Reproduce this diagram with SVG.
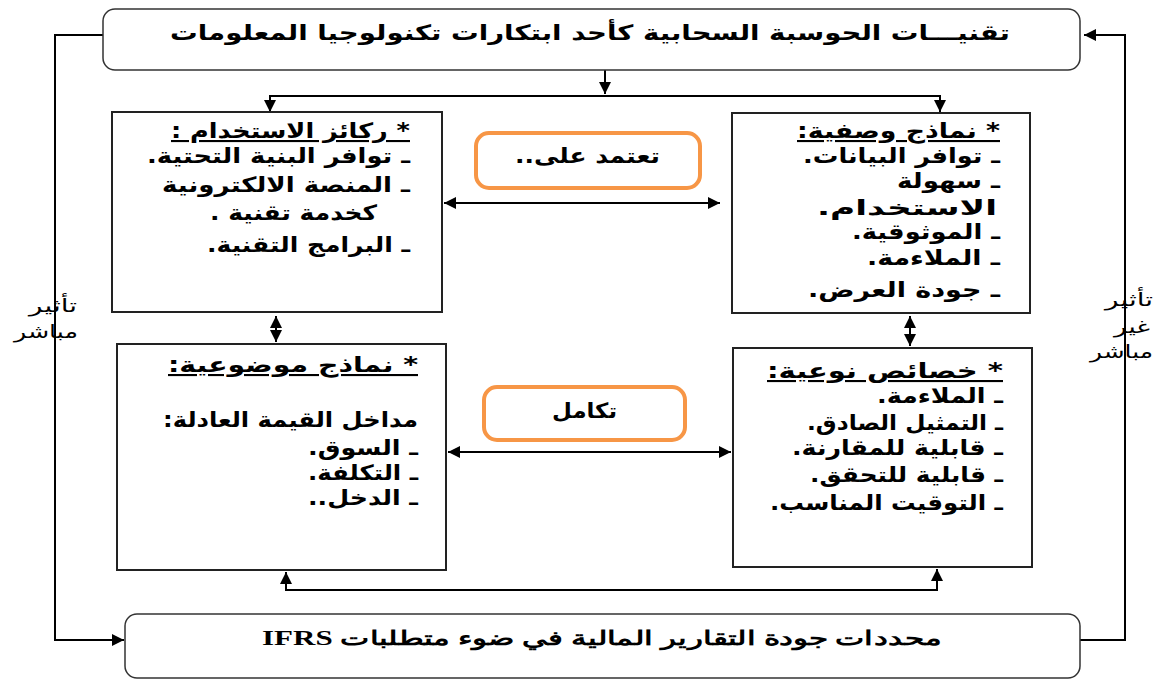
<svg xmlns="http://www.w3.org/2000/svg" width="1159" height="680" viewBox="0 0 1159 680">
<style>
.box{fill:#fff;stroke:#222;stroke-width:2}
.rbox{fill:#fff;stroke:#333;stroke-width:1.5}
.obox{fill:#fff;stroke:#F79646;stroke-width:4}
.ln{fill:none;stroke:#000;stroke-width:2}
.t{font-family:"DejaVu Sans","Noto Sans",sans-serif;font-weight:bold;font-size:21px;fill:#000;direction:rtl}
.h{text-decoration:underline}
.s{font-family:"Liberation Serif","DejaVu Serif",serif;font-weight:bold;font-size:20px;fill:#000;direction:rtl}
.lab{font-family:"DejaVu Sans","Noto Sans",sans-serif;font-size:18px;fill:#000;direction:rtl}
</style>
<defs>
<marker id="ah2" viewBox="0 0 10 10" refX="10" refY="5" markerWidth="12" markerHeight="12" markerUnits="userSpaceOnUse" orient="auto-start-reverse">
<path d="M0,0L10,5L0,10z" fill="#000"/>
</marker>
</defs>

<g id="connectors">
<line class="ln" x1="605" y1="70" x2="605" y2="94" marker-end="url(#ah2)"/>
<polyline class="ln" points="270,112 270,96 940,96 940,112" marker-start="url(#ah2)" marker-end="url(#ah2)"/>
<polyline class="ln" points="1080,640 1125,640 1125,35 1084,35" marker-end="url(#ah2)"/>
<polyline class="ln" points="103,35 55,35 55,640 124,640" marker-end="url(#ah2)"/>
<line class="ln" x1="444" y1="203" x2="720" y2="203" marker-start="url(#ah2)" marker-end="url(#ah2)"/>
<line class="ln" x1="448" y1="452" x2="731" y2="452" marker-start="url(#ah2)" marker-end="url(#ah2)"/>
<line class="ln" x1="276" y1="316" x2="276" y2="342" marker-start="url(#ah2)" marker-end="url(#ah2)"/>
<line class="ln" x1="910" y1="316" x2="910" y2="346" marker-start="url(#ah2)" marker-end="url(#ah2)"/>
<polyline class="ln" points="286,572 286,590 937,590 937,569" marker-start="url(#ah2)" marker-end="url(#ah2)"/>
</g>

<g id="top">
<rect class="rbox" x="103" y="9" width="977" height="61" rx="12"/>
<text class="t" x="1010" y="40" font-size="21" textLength="840" lengthAdjust="spacingAndGlyphs">تقنيـــات الحوسبة السحابية كأحد ابتكارات تكنولوجيا المعلومات</text>
</g>

<g id="bottom">
<rect class="rbox" x="125" y="614" width="955" height="64" rx="12"/>
<text class="s" x="942" y="645" textLength="680" lengthAdjust="spacingAndGlyphs">محددات جودة التقارير المالية في ضوء متطلبات IFRS</text>
</g>

<g id="box1">
<rect class="box" x="112" y="112" width="330" height="200"/>
<text class="t" x="410" y="138" textLength="239" lengthAdjust="spacingAndGlyphs"><tspan class="h">* ركائز الاستخدام :</tspan></text>
<text class="t" x="410" y="163" textLength="263" lengthAdjust="spacingAndGlyphs">ـ توافر البنية التحتية.</text>
<text class="t" x="410" y="192" textLength="248" lengthAdjust="spacingAndGlyphs">ـ المنصة الالكترونية</text>
<text class="t" x="377" y="220" textLength="167" lengthAdjust="spacingAndGlyphs">كخدمة تقنية .</text>
<text class="t" x="410" y="252" textLength="203" lengthAdjust="spacingAndGlyphs">ـ البرامج التقنية.</text>
</g>

<g id="box2">
<rect class="box" x="732" y="113" width="298" height="200"/>
<text class="t" x="1000" y="138" textLength="203" lengthAdjust="spacingAndGlyphs"><tspan class="h">* نماذج وصفية:</tspan></text>
<text class="t" x="1000" y="163" textLength="197" lengthAdjust="spacingAndGlyphs">ـ توافر البيانات.</text>
<text class="t" x="1000" y="188" textLength="103" lengthAdjust="spacingAndGlyphs">ـ سهولة</text>
<text class="t" x="997" y="215" textLength="180" lengthAdjust="spacingAndGlyphs">الاستخدام.</text>
<text class="t" x="1000" y="239" textLength="148" lengthAdjust="spacingAndGlyphs">ـ الموثوقية.</text>
<text class="t" x="1000" y="265" textLength="133" lengthAdjust="spacingAndGlyphs">ـ الملاءمة.</text>
<text class="t" x="1000" y="297" textLength="192" lengthAdjust="spacingAndGlyphs">ـ جودة العرض.</text>
</g>

<g id="box3">
<rect class="box" x="117" y="344" width="329" height="226"/>
<text class="t" x="418" y="372" textLength="250" lengthAdjust="spacingAndGlyphs"><tspan class="h">* نماذج موضوعية:</tspan></text>
<text class="t" x="418" y="427" textLength="255" lengthAdjust="spacingAndGlyphs">مداخل القيمة العادلة:</text>
<text class="t" x="418" y="455" textLength="110" lengthAdjust="spacingAndGlyphs">ـ السوق.</text>
<text class="t" x="418" y="480" textLength="110" lengthAdjust="spacingAndGlyphs">ـ التكلفة.</text>
<text class="t" x="418" y="505" textLength="110" lengthAdjust="spacingAndGlyphs">ـ الدخل..</text>
</g>

<g id="box4">
<rect class="box" x="733" y="348" width="299" height="219"/>
<text class="t" x="1003" y="378" textLength="236" lengthAdjust="spacingAndGlyphs"><tspan class="h">* خصائص نوعية:</tspan></text>
<text class="t" x="1003" y="403" textLength="126" lengthAdjust="spacingAndGlyphs">ـ الملاءمة.</text>
<text class="t" x="1003" y="430" textLength="196" lengthAdjust="spacingAndGlyphs">ـ التمثيل الصادق.</text>
<text class="t" x="1003" y="455" textLength="211" lengthAdjust="spacingAndGlyphs">ـ قابلية للمقارنة.</text>
<text class="t" x="1003" y="482" textLength="193" lengthAdjust="spacingAndGlyphs">ـ قابلية للتحقق.</text>
<text class="t" x="1003" y="510" textLength="233" lengthAdjust="spacingAndGlyphs">ـ التوقيت المناسب.</text>
</g>

<g id="rel1">
<rect class="obox" x="476" y="133" width="224" height="55" rx="13"/>
<text class="t" x="660" y="163" textLength="145" lengthAdjust="spacingAndGlyphs">تعتمد على..</text>
</g>

<g id="rel2">
<rect class="obox" x="484" y="387" width="201" height="53" rx="13"/>
<text class="t" x="617" y="418" textLength="65" lengthAdjust="spacingAndGlyphs">تكامل</text>
</g>

<g id="lab-left">
<text class="lab" x="77" y="312" textLength="48" lengthAdjust="spacingAndGlyphs">تأثير</text>
<text class="lab" x="78" y="338" textLength="64" lengthAdjust="spacingAndGlyphs">مباشر</text>
</g>

<g id="lab-right">
<text class="lab" x="1153" y="306" textLength="48" lengthAdjust="spacingAndGlyphs">تأثير</text>
<text class="lab" x="1150" y="333" textLength="36" lengthAdjust="spacingAndGlyphs">غير</text>
<text class="lab" x="1153" y="358" textLength="63" lengthAdjust="spacingAndGlyphs">مباشر</text>
</g>
</svg>
